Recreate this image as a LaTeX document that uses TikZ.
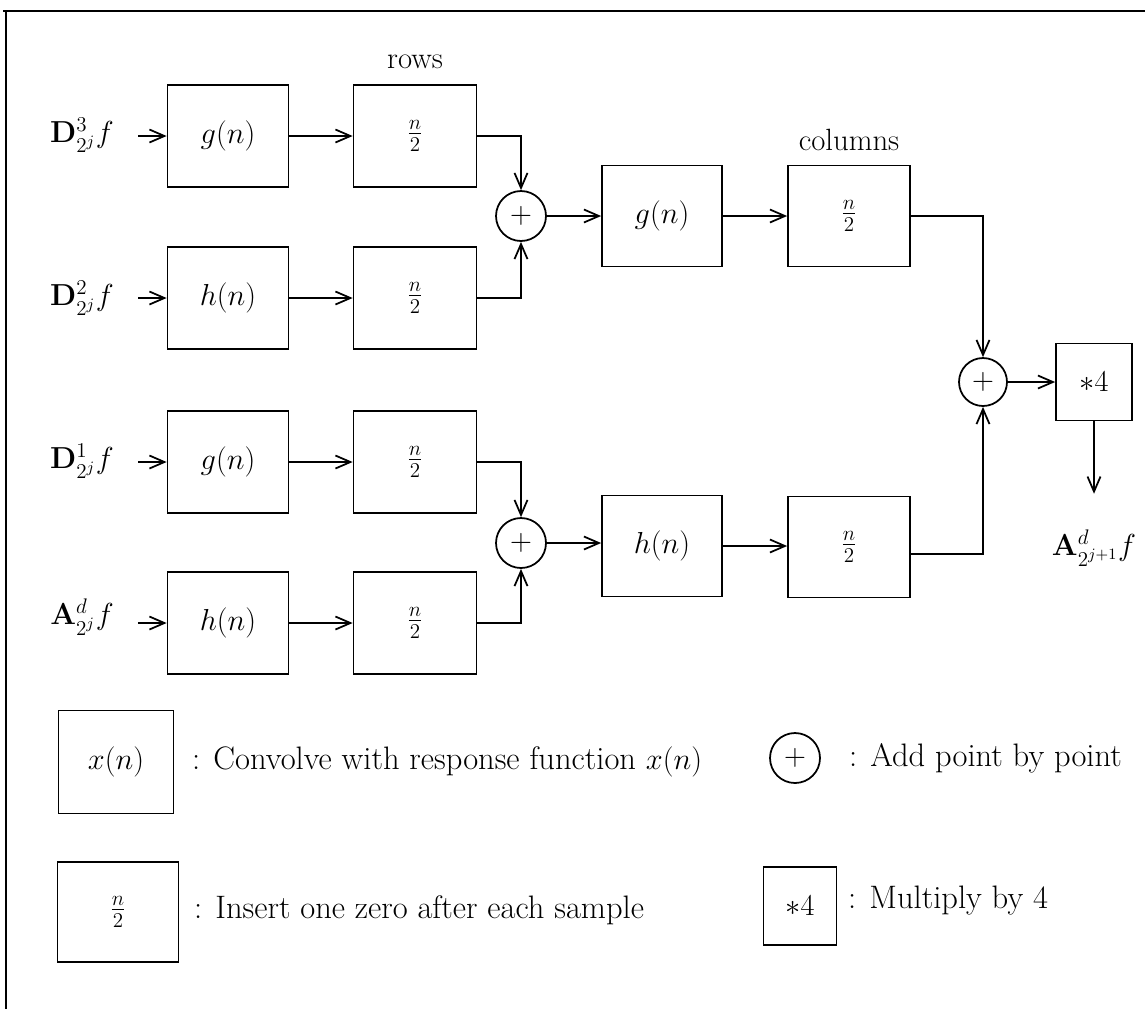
\documentclass[tikz,border=0pt]{standalone}
\usepackage{amsmath,amssymb}
\usepackage{tikz}
\usetikzlibrary{arrows.meta}

\tikzset{
  blk/.style={draw, line width=1pt, minimum width=2.42cm, minimum height=2.04cm, inner sep=0pt},
  sum/.style={draw, circle, line width=1pt, minimum size=1cm, inner sep=0pt},
  flow/.style={line width=1pt, -{Straight Barb[length=3mm,width=2.6mm]}},
  keytext/.style={anchor=west, font=\fontsize{18.5}{22}\selectfont},
}

\begin{document}
\begin{tikzpicture}[x=0.02cm, y=-0.02cm, font=\fontsize{17.5}{21}\selectfont]
  \useasboundingbox (0,0) rectangle (1145,1009);

  % Frame
  \draw[line width=1.1pt] (3,11) -- (1145,11);
  \draw[line width=1.1pt] (6,11) -- (6,1009);

  % Inputs
  \node (in1) at (82,135) {$\mathbf{D}^3_{2^j}f$};
  \node (in2) at (82,298) {$\mathbf{D}^2_{2^j}f$};
  \node (in3) at (82,461) {$\mathbf{D}^1_{2^j}f$};
  \node (in4) at (82,617) {$\mathbf{A}^d_{2^j}f$};

  % Row filters
  \node[blk] (g1) at (228,136) {$g(n)$};
  \node[blk] (h2) at (228,298) {$h(n)$};
  \node[blk] (g3) at (228,462) {$g(n)$};
  \node[blk] (h4) at (228,623) {$h(n)$};

  % Row upsampling
  \node[blk, minimum width=2.46cm] (u1) at (415,136) {$\frac{n}{2}$};
  \node[blk, minimum width=2.46cm] (u2) at (415,298) {$\frac{n}{2}$};
  \node[blk, minimum width=2.46cm] (u3) at (415,462) {$\frac{n}{2}$};
  \node[blk, minimum width=2.46cm] (u4) at (415,623) {$\frac{n}{2}$};
  \node[anchor=base] (rows) at (415,68) {rows};

  % Sums
  \node[sum] (s1) at (521,216) {$+$};
  \node[sum] (s3) at (521,543) {$+$};
  \node[sum, minimum size=0.96cm] (s4) at (983,382) {$+$};

  % Column filters
  \node[blk, minimum width=2.4cm, minimum height=2.02cm] (g5) at (662,216) {$g(n)$};
  \node[blk, minimum width=2.4cm, minimum height=2.02cm] (h6) at (662,546) {$h(n)$};
  \node[blk, minimum width=2.44cm, minimum height=2.02cm] (u5) at (849,216) {$\frac{n}{2}$};
  \node[blk, minimum width=2.44cm, minimum height=2.02cm] (u6) at (849,547) {$\frac{n}{2}$};
  \node[anchor=base] (cols) at (849,150) {columns};

  % Output
  \node[blk, minimum width=1.52cm, minimum height=1.54cm] (m4) at (1094,382) {$*4$};
  \node (out) at (1094,548) {$\mathbf{A}^d_{2^{j+1}}f$};

  % Connections
  \foreach \a/\b in {in1/g1, in2/h2, in3/g3, in4/h4} {
    \draw[flow, shorten <=0.36cm] (\a.east |- \b) -- (\b);
  }
  \foreach \a/\b in {g1/u1, h2/u2, g3/u3, h4/u4} {
    \draw[flow] (\a) -- (\b);
  }
  \draw[flow] (u1.east) -| (s1.north);
  \draw[flow] (u2.east) -| (s1.south);
  \draw[flow] (u3.east) -| (s3.north);
  \draw[flow] (u4.east) -| (s3.south);
  \draw[flow] (s1) -- (g5);
  \draw[flow] (g5) -- (u5);
  \draw[flow] (s3) -- (s3 -| h6.west);
  \draw[flow] (h6) -- (h6 -| u6.west);
  \draw[flow] (u5.east) -| (s4.north);
  \draw[flow] ([yshift=-0.14cm]u6.east) -| (s4.south);
  \draw[flow] (s4) -- (m4);
  \draw[flow, shorten >=0.6cm] (m4) -- (out);

  % Legend
  \node[blk, minimum width=2.3cm, minimum height=2.06cm] (k1) at (116,762) {$x(n)$};
  \node[keytext] (t1) at (186,762) {: Convolve with response function $x(n)$};
  \node[sum] (k2) at (795,758) {$+$};
  \node[keytext] (t2) at (843,758) {: Add point by point};
  \node[blk, minimum width=2.42cm, minimum height=2cm] (k3) at (118,912) {$\frac{n}{2}$};
  \node[keytext] (t3) at (188,910) {: Insert one zero after each sample};
  \node[blk, minimum width=1.46cm, minimum height=1.56cm] (k4) at (800,906) {$*4$};
  \node[keytext] (t4) at (842,900) {: Multiply by 4};
\end{tikzpicture}
\end{document}
